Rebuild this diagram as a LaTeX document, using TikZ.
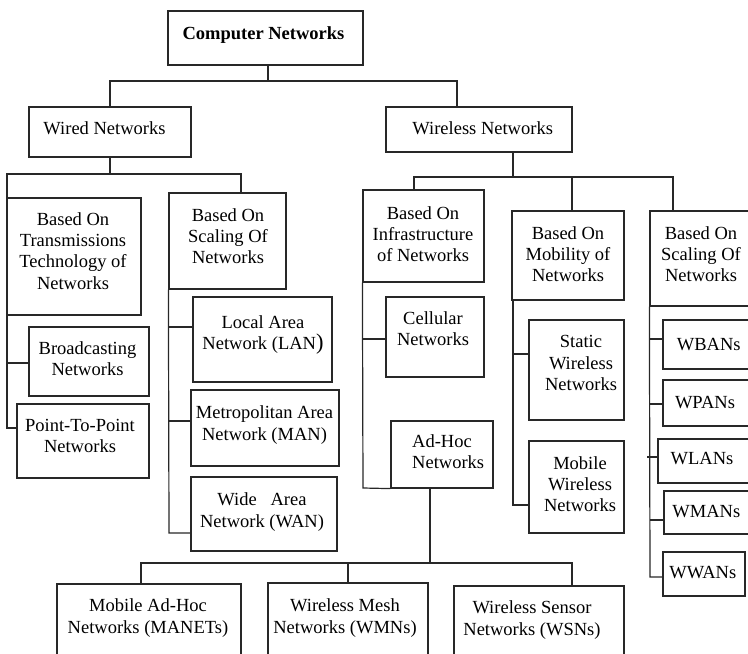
\documentclass[tikz,border=0pt]{standalone}
\usepackage{fontspec}
\setmainfont{Liberation Serif}
\usetikzlibrary{fit}
\definecolor{ln}{RGB}{40,40,40}
\tikzset{
  bx/.style={draw=ln, line width=1.2pt, inner sep=0pt, rectangle},
  txt/.style={inner sep=0pt, align=center, font=\fontsize{18.5}{21.2}\selectfont},
  conn/.style={draw=ln, line width=1.2pt}
}
\begin{document}
\begin{tikzpicture}[x=1pt,y=-1pt]
\useasboundingbox (0,0) rectangle (748,654);
\clip (0,0) rectangle (748,654);
% boxes
\node[bx, fit={(168,11) (363,65)}] (cn) {};
\node[bx, fit={(29,107) (191,157)}] (wired) {};
\node[bx, fit={(386,107) (572,152)}] (wireless) {};
\node[bx, fit={(7,198) (141,315)}] (trans) {};
\node[bx, fit={(169,193) (286,289)}] (wscale) {};
\node[bx, fit={(29,327) (149,396)}] (bcast) {};
\node[bx, fit={(17,404) (149,478)}] (point) {};
\node[bx, fit={(193,297) (332,382)}] (lan) {};
\node[bx, fit={(191,390) (339,466)}] (man) {};
\node[bx, fit={(191,477) (337,551)}] (wan) {};
\node[bx, fit={(363,190) (484,282)}] (infra) {};
\node[bx, fit={(386,297) (484,377)}] (cell) {};
\node[bx, fit={(391,421) (493,488)}] (adhoc) {};
\node[bx, fit={(512,211) (624,300)}] (mob) {};
\node[bx, fit={(529,320) (624,420)}] (static) {};
\node[bx, fit={(529,441) (624,533)}] (mobile) {};
\node[bx, fit={(650,211) (770,306)}] (rscale) {};
\node[bx, fit={(663,320) (770,369)}] (wban) {};
\node[bx, fit={(663,380) (770,426)}] (wpan) {};
\node[bx, fit={(658,439) (770,483)}] (wlan) {};
\node[bx, fit={(664,491) (770,534)}] (wman) {};
\node[bx, fit={(663,552) (745,596)}] (wwan) {};
\node[bx, fit={(57,584) (241,690)}] (manet) {};
\node[bx, fit={(268,583) (428,690)}] (wmn) {};
\node[bx, fit={(454,586) (624,690)}] (wsn) {};
% texts
\node[txt] (tcn) at (263.5,35) {\bfseries Computer Networks};
\node[txt] (twired) at (104.5,128) {Wired Networks};
\node[txt] (twireless) at (482.7,128) {Wireless Networks};
\node[txt] (ttrans) at (73,251) {Based On\\Transmissions\\Technology of\\Networks};
\node[txt] (twscale) at (228,236) {Based On\\Scaling Of\\Networks};
\node[txt] (tbcast) at (87.5,359) {Broadcasting\\Networks};
\node[txt] (tpoint) at (80,436) {Point-To-Point\\Networks};
\node[txt] (tlan) at (263,335) {Local Area\\Network (LAN{\fontsize{22.5}{22.5}\selectfont )}};
\node[txt] (tman) at (264.5,425) {Metropolitan Area\\Network (MAN)};
\node[txt] (twan) at (262,512) {Wide\ \ \ Area\\Network (WAN)};
\node[txt] (tinfra) at (423,234) {Based On\\Infrastructure\\of Networks};
\node[txt] (tcell) at (433,329) {Cellular\\Networks};
\node[txt, align=left, anchor=west] (tadhoc) at (412,452) {Ad-Hoc\\Networks};
\node[txt] (tmob) at (568,254) {Based On\\Mobility of\\Networks};
\node[txt] (tstatic) at (581,363) {Static\\Wireless\\Networks};
\node[txt] (tmobile) at (580,484) {Mobile\\Wireless\\Networks};
\node[txt] (trscale) at (701,254) {Based On\\Scaling Of\\Networks};
\node[txt] (twban) at (708.7,345) {WBANs};
\node[txt] (twpan) at (705,402.5) {WPANs};
\node[txt] (twlan) at (702,459) {WLANs};
\node[txt] (twman) at (706.3,511.5) {WMANs};
\node[txt] (twwan) at (702.8,573) {WWANs};
\node[txt] (tmanet) at (148,618) {Mobile Ad-Hoc\\Networks (MANETs)};
\node[txt] (twmn) at (345,618) {Wireless Mesh\\Networks (WMNs)};
\node[txt] (twsn) at (532,620) {Wireless Sensor\\Networks (WSNs)};
% junctions
\coordinate (jtop) at (268,81);
\coordinate (jwl) at (457,81);
\coordinate (jwd) at (110,174);
\coordinate (jwl1) at (7,174);
\coordinate (jwr) at (241,174);
\coordinate (jpt) at (7,428);
\coordinate (jbc) at (7,363);
\coordinate (jws) at (169,533);
\coordinate (jlan) at (169,327);
\coordinate (jman) at (169,421);
\coordinate (jw) at (513,177);
\coordinate (jinf) at (414,177);
\coordinate (jmob) at (572,177);
\coordinate (jsc) at (673,177);
\coordinate (jah) at (363,488);
\coordinate (jcell) at (363,339);
\coordinate (jb) at (430,563);
\coordinate (jbl) at (141,563);
\coordinate (jbr) at (572,563);
\coordinate (jwmn) at (348,563);
\coordinate (jst) at (513,354);
\coordinate (jmb) at (513,505);
\coordinate (jww) at (650,577);
\coordinate (jwb) at (650,339);
\coordinate (jwp) at (650,404);
\coordinate (jwla) at (647,457);
\coordinate (jwm) at (650,520);
% connectors
\draw[conn] (jtop |- cn.south) -- (jtop);
\draw[conn] (wired.north) |- (jwl) -- (jwl |- wireless.north);
\draw[conn] (wired.south) -- (jwd);
\draw[conn] (jwr |- wscale.north) -- (jwr) -- (jwl1) -- (jpt) -- (jpt -| point.west);
\draw[conn] (jbc) -- (jbc -| bcast.west);
\draw[conn] (wscale.south west) -- (jws) -- (jws -| wan.west);
\draw[conn] (jlan) -- (jlan -| lan.west);
\draw[conn] (jman) -- (jman -| man.west);
\draw[conn] (jw |- wireless.south) -- (jw);
\draw[conn] (jinf |- infra.north) -- (jinf) -- (jsc) -- (jsc |- rscale.north);
\draw[conn] (jmob) -- (jmob |- mob.north);
\draw[conn] (infra.south west) -- (jah) -- (adhoc.south west);
\draw[conn] (jcell) -- (jcell -| cell.west);
\draw[conn] (jb |- adhoc.south) -- (jb);
\draw[conn] (jbl |- manet.north) -- (jbl) -- (jbr) -- (jbr |- wsn.north);
\draw[conn] (jwmn) -- (jwmn |- wmn.north);
\draw[conn] (jmb |- mob.south) -- (jmb) -- (jmb -| mobile.west);
\draw[conn] (jst) -- (jst -| static.west);
\draw[conn] (rscale.south west) -- (jww) -- (jww -| wwan.west);
\draw[conn] (jwb) -- (jwb -| wban.west);
\draw[conn] (jwp) -- (jwp -| wpan.west);
\draw[conn] (jwla) -- (jwla -| wlan.west);
\draw[conn] (jwm) -- (jwm -| wman.west);
\end{tikzpicture}
\end{document}
